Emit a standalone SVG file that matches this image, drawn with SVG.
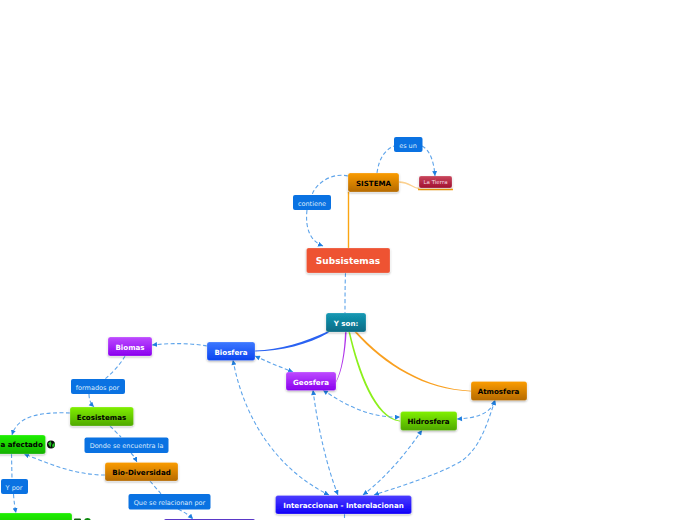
<svg xmlns="http://www.w3.org/2000/svg" width="696" height="520" viewBox="0 0 696 520">
<style>
text{font-family:"DejaVu Sans",Verdana,sans-serif;text-anchor:middle}
.b{font-weight:bold;font-size:7.1px}
.w{fill:#fff}
.k{fill:#000}
.l{font-size:6.5px;fill:#dcebfc}
.lb{fill:#0a72e2}
.n{stroke:#fff;stroke-opacity:.35;stroke-width:.6;filter:url(#s)}
.d{fill:none;stroke:#5ea4ea;stroke-width:1.1;stroke-dasharray:4 2.500}
.da{marker-end:url(#a)}
.ds{marker-start:url(#as)}
.c{fill:none;stroke-width:1.4}
</style>
<defs>
<filter id="s" x="-20%" y="-20%" width="140%" height="150%"><feDropShadow dx="0" dy="1" stdDeviation="1" flood-color="#000" flood-opacity=".3"/></filter>
<marker id="a" markerWidth="6" markerHeight="6" refX="5" refY="2.500" orient="auto" markerUnits="userSpaceOnUse"><path d="M0 0L5 2.500L0 5z" fill="#1f7fe0"/></marker>
<marker id="as" markerWidth="6" markerHeight="6" refX="0" refY="2.500" orient="auto" markerUnits="userSpaceOnUse"><path d="M5 0L0 2.500L5 5z" fill="#1f7fe0"/></marker>
<linearGradient id="or" x1="0" y1="0" x2="0" y2="1"><stop offset="0" stop-color="#fb9c00"/><stop offset="1" stop-color="#b56a00"/></linearGradient>
<linearGradient id="gr" x1="0" y1="0" x2="0" y2="1"><stop offset="0" stop-color="#80f000"/><stop offset="1" stop-color="#4fa800"/></linearGradient>
<linearGradient id="g2" x1="0" y1="0" x2="0" y2="1"><stop offset="0" stop-color="#20f000"/><stop offset="1" stop-color="#14b000"/></linearGradient>
<linearGradient id="bl" x1="0" y1="0" x2="0" y2="1"><stop offset="0" stop-color="#3d78ff"/><stop offset="1" stop-color="#0a44f0"/></linearGradient>
<linearGradient id="in" x1="0" y1="0" x2="0" y2="1"><stop offset="0" stop-color="#4a3cff"/><stop offset="1" stop-color="#1000f8"/></linearGradient>
<linearGradient id="pu" x1="0" y1="0" x2="0" y2="1"><stop offset="0" stop-color="#bd4aff"/><stop offset="1" stop-color="#8a00ee"/></linearGradient>
<linearGradient id="te" x1="0" y1="0" x2="0" y2="1"><stop offset="0" stop-color="#1399b4"/><stop offset="1" stop-color="#0b6a84"/></linearGradient>
<linearGradient id="re" x1="0" y1="0" x2="0" y2="1"><stop offset="0" stop-color="#c9465c"/><stop offset="1" stop-color="#a01030"/></linearGradient>
</defs>

<g id="connectors">
<path class="c" stroke="#fba512" stroke-width="2" d="M348.500 192V248"/>
<path class="c" stroke="#fbd08e" stroke-width="1.200" d="M399 182C410 182 412 188 419 188.500"/>
<path class="c" stroke="#fb9f0a" stroke-width="2" d="M418 189.500H453"/>
<path fill="#2a62f2" d="M327.500 331.500C305 342 280 350 255 350.600V351.400C282 351 307 345 329 332.500z"/>
<path fill="#b034ea" d="M345 332C344.500 352 341 372 336 381.600V382.400C342 373 345.500 352 346.600 332z"/>
<path fill="#8cf01c" d="M348.500 332C357.500 372 374 419 400 421.400V420.800C376 417 359.500 372 350 332z"/>
<path fill="#f9a020" d="M354 331.500C385 366 425 390 471 391.400V390.800C426 388.500 386.500 364.500 355.500 330.500z"/>
<path class="d" d="M345.500 273C345 285 345 300 345 313"/>
<path class="d" d="M377 173C379 158 385 150 394 146"/>
<path class="d da" d="M422 146C430 150 434 162 435 176"/>
<path class="d" d="M348 176C330 172 315 185 312 195"/>
<path class="d da" d="M307 210C305 228 310 241 323 246"/>
<path class="d da" d="M207 346C190 343 170 343 152 345"/>
<path class="d" d="M125 356C120 365 112 373 105 379"/>
<path class="d da" d="M89 394C89 400 91 404 94 407"/>
<path class="d da" d="M70 413C45 412 18 414 12 435"/>
<path class="d" d="M110 426C114 430 118 434 121 437"/>
<path class="d da" d="M131 453C134 456 136 460 137 462"/>
<path class="d da" d="M105 475C75 475 50 464 24 454"/>
<path class="d" d="M150 481C154 486 158 490 161 494"/>
<path class="d da" d="M178 509C184 512 189 515 193 519"/>
<path class="d" d="M11.500 454L12 479"/>
<path class="d da" d="M13.500 494C14 502 15 508 16 513"/>
<path class="d da ds" d="M255 356C268 362 280 367 293 372"/>
<path class="d da ds" d="M233 360C244 420 278 470 329 495"/>
<path class="d da ds" d="M313 390C318 430 328 470 338 495"/>
<path class="d da ds" d="M323 390C345 405 370 418 400 417"/>
<path class="d da ds" d="M422 430C405 455 385 478 363 495"/>
<path class="d da ds" d="M495 400C485 432 478 448 463 460C445 472 405 485 374 495"/>
<path class="d da ds" d="M457 419C475 418 490 415 495 400"/>
<path class="d" d="M344.500 514V520"/>
</g>

<g id="n-sistema"><rect class="n" x="348" y="173" width="51" height="19" rx="2.500" fill="url(#or)"/><text class="b k" x="373.500" y="186">SISTEMA</text></g>
<g id="n-esun"><rect x="394" y="137" width="28.500" height="15" rx="2" class="lb"/><text class="l" x="408" y="147.500">es un</text></g>
<g id="n-latierra"><rect class="n" x="419" y="176" width="33" height="12" rx="2" fill="url(#re)"/><text x="435.500" y="184" font-size="5.500" fill="#f4dbe0">La Tierra</text></g>
<g id="n-contiene"><rect x="293" y="195" width="38" height="15" rx="2" class="lb"/><text class="l" x="312" y="205.500">contiene</text></g>
<g id="n-subsistemas"><rect class="n" x="306.500" y="248" width="83.500" height="25" rx="2" fill="#ee5233"/><text class="w" x="348" y="264" font-size="9" font-weight="bold">Subsistemas</text></g>
<g id="n-yson"><rect class="n" x="326" y="313" width="40" height="19" rx="2.500" fill="url(#te)"/><text class="b w" x="346" y="325.500">Y son:</text></g>
<g id="n-biosfera"><rect class="n" x="207" y="342" width="48" height="18.500" rx="2.500" fill="url(#bl)"/><text class="b w" x="231" y="354.500">Biosfera</text></g>
<g id="n-biomas"><rect class="n" x="108" y="337" width="44" height="19" rx="2.500" fill="url(#pu)"/><text class="b w" x="130" y="349.500">Biomas</text></g>
<g id="n-formados"><rect x="71" y="379" width="54" height="15" rx="2" class="lb"/><text class="l" x="97.500" y="389.500">formados por</text></g>
<g id="n-ecosistemas"><rect class="n" x="70" y="407" width="63.500" height="19" rx="2.500" fill="url(#gr)"/><text class="b k" x="101.500" y="419.500">Ecosistemas</text></g>
<g id="n-afectado"><rect class="n" x="-20" y="435" width="65.500" height="19" rx="2.500" fill="url(#g2)"/><text class="b k" x="0.500" y="447" style="text-anchor:start">a afectado</text><circle cx="51" cy="444.500" r="4" fill="#0a0a0a"/><path d="M48 443.500l2.500-2.500 1 2.500-1 4zM52 445l2.500-2.500.3 3-2 2.500z" fill="#22c022"/></g>
<g id="n-donde"><rect x="84.500" y="437.500" width="84" height="15.500" rx="2" class="lb"/><text class="l" x="126.500" y="448">Donde se encuentra la</text></g>
<g id="n-biodiversidad"><rect class="n" x="105" y="462.500" width="73" height="18.500" rx="2.500" fill="url(#or)"/><text class="b k" x="141.500" y="475">Bio-Diversidad</text></g>
<g id="n-ypor"><rect x="1" y="479" width="27" height="15" rx="2" class="lb"/><text class="l" x="14" y="489.500">Y por</text></g>
<g id="n-bottomgreen"><rect class="n" x="-20" y="513" width="92" height="20" rx="2.500" fill="url(#g2)"/><rect x="74" y="518.500" width="7" height="5" rx="1" fill="#0f5f0f"/><circle cx="87.500" cy="521.500" r="3.500" fill="#0c8a0c"/></g>
<g id="n-que"><rect x="128.500" y="494" width="82" height="15.500" rx="2" class="lb"/><text class="l" x="169.500" y="504.500">Que se relacionan por</text></g>
<g id="n-bottompurple"><rect x="164" y="519" width="91" height="6" rx="2" fill="#5a38c8"/></g>
<g id="n-geosfera"><rect class="n" x="286" y="372" width="50" height="18.500" rx="2.500" fill="url(#pu)"/><text class="b w" x="311" y="384.500">Geosfera</text></g>
<g id="n-hidrosfera"><rect class="n" x="400.500" y="411.500" width="56.500" height="19" rx="2.500" fill="url(#gr)"/><text class="b k" x="428.500" y="424">Hidrosfera</text></g>
<g id="n-atmosfera"><rect class="n" x="471" y="381.500" width="56" height="19" rx="2.500" fill="url(#or)"/><text class="b k" x="498.500" y="394">Atmosfera</text></g>
<g id="n-interaccionan"><rect class="n" x="275.500" y="495.500" width="136" height="18.500" rx="2.500" fill="url(#in)"/><text class="b w" x="343.500" y="507.500">Interaccionan - Interelacionan</text></g>
</svg>
